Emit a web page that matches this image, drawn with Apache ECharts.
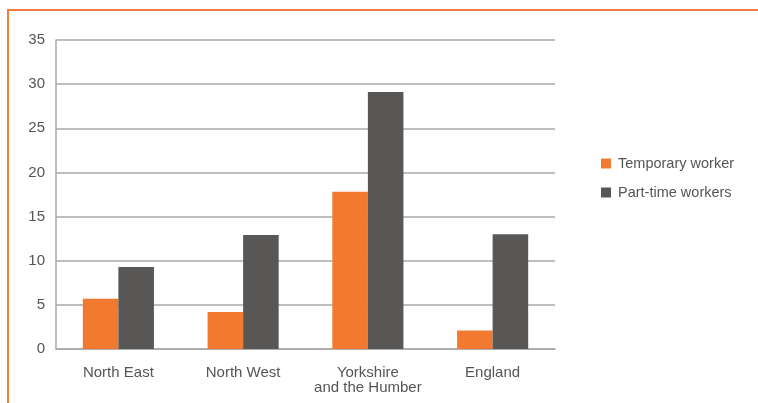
<!DOCTYPE html>
<html>
<head>
<meta charset="utf-8">
<script src="https://cdn.jsdelivr.net/npm/echarts@6/dist/echarts.min.js"></script>
<style>
  html, body { margin: 0; padding: 0; background: #fff; }
  #frame { position: absolute; left: 0; top: 0; width: 758px; height: 403px; }
  #border { position: absolute; left: 7px; top: 9px; right: 0; bottom: -5px;
            border-top: 2px solid #f47c3c; border-left: 2px solid #f47c3c; }
  #chart { position: absolute; left: 0; top: 0; width: 758px; height: 403px; }
</style>
</head>
<body>
<div id="frame">
  <div id="border"></div>
  <div id="chart"></div>
</div>
<script>
const regions = ['North East', 'North West', 'Yorkshire\nand the Humber', 'England'];
const temporaryWorker = [5.7, 4.2, 17.8, 2.1];
const partTimeWorkers = [9.3, 12.9, 29.1, 13.0];
const yTicks = { min: 0, max: 35, interval: 5 };

const chart = echarts.init(document.getElementById('chart'), null, { renderer: 'canvas' });
const textColor = '#555555';
const lineColor = '#a8a8a8';

chart.setOption({
  animation: false,
  textStyle: { fontFamily: 'Liberation Sans, Arial, sans-serif' },
  grid: { left: 56, right: 203, top: 40, bottom: 54 },
  legend: {
    orient: 'vertical',
    left: 596,
    top: 151,
    itemWidth: 10,
    itemHeight: 10,
    itemGap: 14,
    icon: 'rect',
    textStyle: { color: textColor, fontSize: 14.5, padding: [0, 0, 0, 2] },
    data: ['Temporary worker', 'Part-time workers']
  },
  xAxis: {
    type: 'category',
    data: regions,
    axisLine: { show: true, lineStyle: { color: lineColor, width: 1.5 } },
    axisTick: { show: false },
    axisLabel: { color: textColor, fontSize: 15, lineHeight: 15, margin: 16, interval: 0 }
  },
  yAxis: {
    type: 'value',
    min: yTicks.min,
    max: yTicks.max,
    interval: yTicks.interval,
    axisLine: { show: true, lineStyle: { color: lineColor, width: 1.5 } },
    axisTick: { show: false },
    axisLabel: { color: textColor, fontSize: 15, margin: 11 },
    splitLine: { show: true, lineStyle: { color: lineColor, width: 1.5 } }
  },
  series: [
    {
      name: 'Temporary worker',
      type: 'bar',
      data: temporaryWorker,
      barGap: '0%',
      barCategoryGap: '43%',
      itemStyle: { color: '#f27a30' }
    },
    {
      name: 'Part-time workers',
      type: 'bar',
      data: partTimeWorkers,
      itemStyle: { color: '#595756' }
    }
  ]
});
</script>
</body>
</html>
